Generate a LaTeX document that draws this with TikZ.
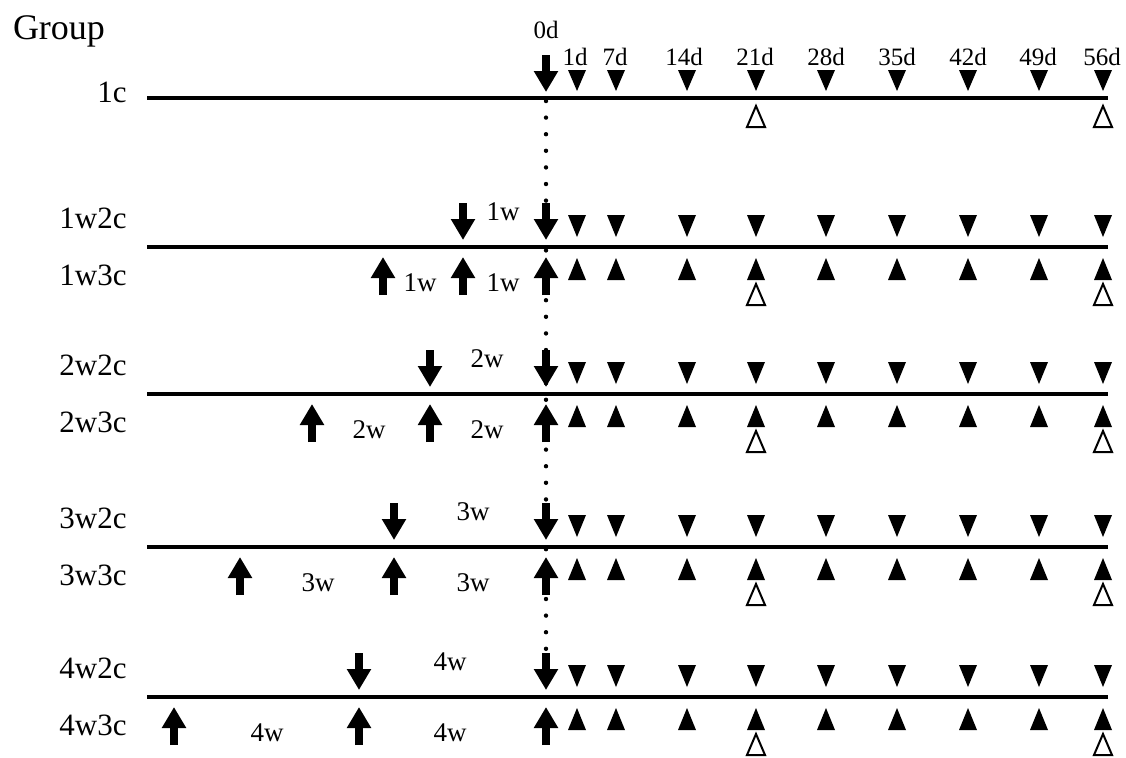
\documentclass[tikz,border=0pt]{standalone}
\usepackage{fontspec}
\setmainfont{Liberation Serif}
\usetikzlibrary{arrows.meta}
\tikzset{
  bigarrow/.style={line width=4pt,-{Triangle[width=11.5pt,length=10.5pt]}},
  timeline/.style={line width=2pt},
  grouplbl/.style={font=\fontsize{15.5}{15.5}\selectfont,anchor=base east,inner sep=0pt},
  weeklbl/.style={font=\fontsize{13.5}{13.5}\selectfont,anchor=base,inner sep=0pt},
  daylbl/.style={font=\fontsize{12.5}{12.5}\selectfont,anchor=base,inner sep=0pt},
  opentri/.style={line width=1pt,line join=miter},
}
\begin{document}
\begin{tikzpicture}[x=0.5pt,y=-0.5pt]
  \useasboundingbox (0,0) rectangle (1126,757);
  % header
  \node[font=\fontsize{18}{18}\selectfont,anchor=base,inner sep=0pt] (group) at (59,39) {Group};
  \node[daylbl] (d0) at (546,38) {0d};
  \foreach \x/\d in {575/1d,615/7d,684/14d,755/21d,826/28d,897/35d,968/42d,1038/49d,1102/56d}
    \node[daylbl] (d\d) at (\x,65) {\d};

  % 0d dotted line
  \draw[line width=2.2pt,line cap=round,dash pattern=on 0pt off 8.3pt] (546,101) -- (546,690);

  % 1c
  \node[grouplbl] (g1c) at (127,102) {1c};
  \draw[timeline] (147,98) -- (1108,98);
  \draw[bigarrow] (546,55) -- (546,92);
  \foreach \x in {577,616,687,756,826,897,968,1039,1103}
    \fill (\x-9,70) -- (\x+9,70) -- (\x,91) -- cycle;
  \foreach \x in {756,1103}
    \draw[opentri] (\x-9,127) -- (\x+9,127) -- (\x,106) -- cycle;

  % 1w, 2w, 3w, 4w
  \foreach \k/\L/\a/\b/\t/\s in {1/247/463/383/503/420,2/394/430/312/487/369,3/547/394/240/473/318,4/697/359/174/450/267}{
    %labels
    \node[grouplbl] (g\k w2c) at (127,\L-19) {\k w2c};
    \node[grouplbl] (g\k w3c) at (127,\L+38) {\k w3c};
    \node[weeklbl] (w\k a) at (\t,\L-27) {\k w};
    \node[weeklbl] (w\k b) at (\s,\L+44) {\k w};
    \node[weeklbl] (w\k c) at (\t,\L+44) {\k w};
    %line
    \draw[timeline] (147,\L) -- (1108,\L);
    %arrows
    \foreach \x in {\a,546}
      \draw[bigarrow] (\x,\L-44) -- (\x,\L-7);
    \foreach \x in {\b,\a,546}
      \draw[bigarrow] (\x,\L+48) -- (\x,\L+10);
    %samples
    \foreach \x in {577,616,687,756,826,897,968,1039,1103}{
      \fill (\x-9,\L-32) -- (\x+9,\L-32) -- (\x,\L-10) -- cycle;
      \fill (\x-9,\L+33) -- (\x+9,\L+33) -- (\x,\L+11) -- cycle;
    }
    \foreach \x in {756,1103}
      \draw[opentri] (\x-9,\L+58) -- (\x+9,\L+58) -- (\x,\L+37) -- cycle;
  }
\end{tikzpicture}
\end{document}
